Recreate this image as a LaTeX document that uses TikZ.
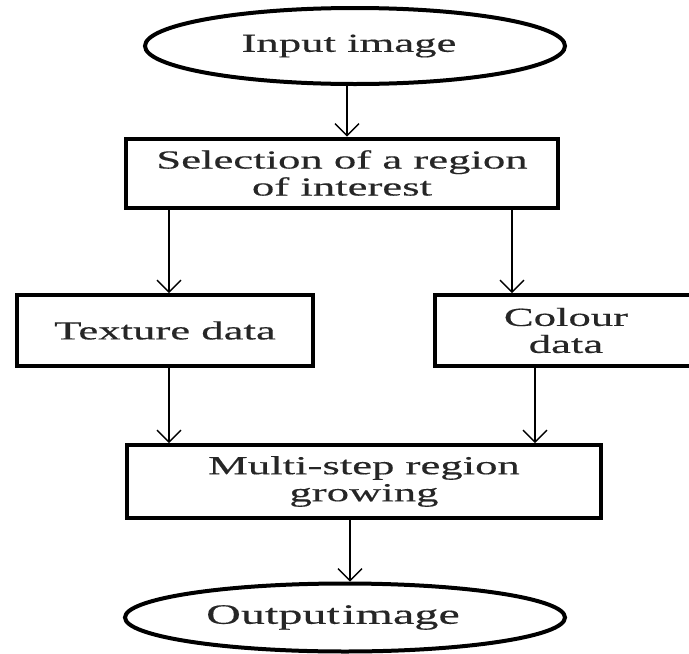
\documentclass[tikz,border=0pt]{standalone}
\usepackage{fontspec}
\setmainfont{Liberation Serif}[FakeStretch=1.72,FakeBold=0.4]
\usetikzlibrary{shapes.geometric,arrows.meta}
\begin{document}
\begin{tikzpicture}[x=1pt,y=-1pt,
  every node/.style={font=\fontsize{26}{27}\selectfont, align=center, inner sep=0pt, text=black!85},
  oval/.style={ellipse, draw, line width=4pt},
  stepbox/.style={rectangle, draw, line width=4pt},
  arr/.style={line width=1.4pt, -{Straight Barb[length=12pt,width=24pt,line width=1.4pt]}}
]
\useasboundingbox[fill=white] (0,0) rectangle (689,654);

\node[oval, minimum width=420pt, minimum height=76pt] (in) at (355,46) {Input image\hspace{12pt}};
\node[stepbox, minimum width=432pt, minimum height=69pt] (sel) at (342,173) {Selection of a region\\of interest};
\node[stepbox, minimum width=296pt, minimum height=71pt] (tex) at (165,330.5) {Texture data};
\node[stepbox, minimum width=262pt, minimum height=71pt] (col) at (566,330.5) {Colour\\data};
\node[stepbox, minimum width=474pt, minimum height=73pt] (mul) at (364,481.5) {Multi-step region\\growing};
\node[oval, minimum width=440pt, minimum height=68pt, font=\fontsize{28}{29}\selectfont] (out) at (345,617.5) {{\spaceskip=0.08em Output image}\hspace{24pt}};

\draw[arr] (in.south -| 347,0) -- (sel.north -| 347,0);
\draw[arr] (sel.south -| 169,0) -- (tex.north -| 169,0);
\draw[arr] (sel.south -| 512,0) -- (col.north -| 512,0);
\draw[arr] (tex.south -| 169,0) -- (mul.north -| 169,0);
\draw[arr] (col.south -| 535,0) -- (mul.north -| 535,0);
\draw[arr] (mul.south -| 350,0) -- (out.north -| 350,0);
\end{tikzpicture}
\end{document}
